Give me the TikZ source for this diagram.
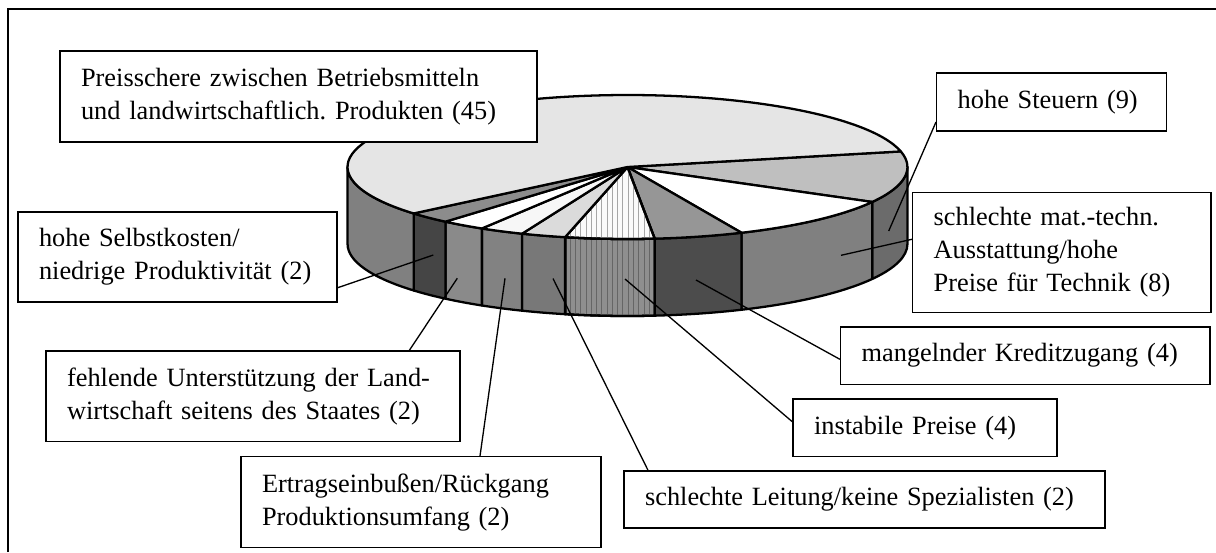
\documentclass[tikz,border=0pt]{standalone}
\usepackage{fontspec}
\setmainfont{Liberation Serif}
\usetikzlibrary{patterns}

\definecolor{preT}{gray}{0.90}
\definecolor{preS}{gray}{0.50}
\definecolor{steuT}{gray}{0.75}
\definecolor{steuS}{gray}{0.42}
\definecolor{matS}{gray}{0.50}
\definecolor{kredT}{gray}{0.59}
\definecolor{kredS}{gray}{0.30}
\definecolor{instT}{gray}{0.98}
\definecolor{instS}{gray}{0.56}
\definecolor{leitT}{gray}{0.86}
\definecolor{leitS}{gray}{0.47}
\definecolor{ertrT}{gray}{0.97}
\definecolor{ertrS}{gray}{0.51}
\definecolor{fehlS}{gray}{0.54}
\definecolor{selbT}{gray}{0.55}
\definecolor{selbS}{gray}{0.27}

\tikzset{
    hatch/instT/.style={postaction={pattern=vertical lines, pattern color=black!35}, postaction={draw, line width=1.3pt}},
    hatch/instS/.style={postaction={pattern=vertical lines, pattern color=black!60}, postaction={draw, line width=1.3pt}}
}

\begin{document}
\frenchspacing
\begin{tikzpicture}[
            x=0.02cm, y=0.02cm,
            font=\fontsize{15}{18.8}\selectfont,
            lbl/.style={rectangle, draw, line width=0.85pt, fill=white, align=left, inner xsep=0.42cm, inner ysep=0pt},
            pie/.style={draw, line width=1.3pt, line join=round},
            rim/.style={x radius=5.6cm, y radius=1.44cm},
            lead/.style={line width=0.75pt}
        ]
        \useasboundingbox (0,0) rectangle (1216,-552);
        \draw[line width=0.85pt] (8,-552) -- (8,-9) -- (1216,-9);

        % 3D pie: sides first, then the top faces
        \begin{scope}[shift={(627.5,-167)}]
        \foreach \lo/\hi/\col in {-29.04/0/steuS, -65.96/-29.04/matS, -84.42/-65.96/kredS, -102.88/-84.42/instS, -112.12/-102.88/leitS, -121.35/-112.12/ertrS, -130.58/-121.35/fehlS, -139.81/-130.58/selbS, -180/-139.81/preS}
            \filldraw[pie, fill=\col, hatch/\col/.try] (\hi:5.6cm and 1.44cm) arc[rim, start angle=\hi, end angle=\lo] -- ++(0,-77) arc[rim, start angle=\lo, end angle=\hi] -- cycle;
        \foreach \lo/\hi/\col in {-29.04/12.5/steuT, -65.96/-29.04/white, -84.42/-65.96/kredT, -102.88/-84.42/instT, -112.12/-102.88/leitT, -121.35/-112.12/ertrT, -130.58/-121.35/white, -139.81/-130.58/selbT, 12.5/220.19/preT}
            \filldraw[pie, fill=\col, hatch/\col/.try] (0,0) -- (\lo:5.6cm and 1.44cm) arc[rim, start angle=\lo, end angle=\hi] -- cycle;
        \end{scope}

        \coordinate (steu-p) at (888.7,-231);
        \coordinate (mat-p) at (841,-255.3);
        \coordinate (kred-p) at (696,-280);
        \coordinate (inst-p) at (625,-279);
        \coordinate (leit-p) at (553,-278.5);
        \coordinate (ertr-p) at (505,-278.3);
        \coordinate (fehl-p) at (457.3,-278.3);
        \coordinate (selb-p) at (433.3,-255);

        \node[lbl, text width=8.70cm, minimum height=1.82cm] (pre) at (298.5,-96.5) {Preisschere zwischen Betriebsmitteln\\und landwirtschaftlich. Produkten (45)};
        \node[lbl, text width=3.76cm, minimum height=1.16cm] (steu) at (1051.7,-102) {hohe Steuern (9)};
        \node[lbl, text width=5.13cm, minimum height=2.40cm] (mat) at (1061.85,-252.3) {schlechte mat.-techn.\\Ausstattung/hohe\\Preise für Technik (8)};
        \node[lbl, text width=6.55cm, minimum height=1.15cm] (kred) at (1025.35,-355.5) {mangelnder Kreditzugang (4)};
        \node[lbl, text width=4.44cm, minimum height=1.15cm] (inst) at (925,-427.85) {instabile Preise (4)};
        \node[lbl, text width=8.78cm, minimum height=1.14cm] (leit) at (864.5,-499.5) {schlechte Leitung/keine Spezialisten (2)};
        \node[lbl, text width=6.36cm, minimum height=1.82cm] (ertr) at (421,-502.2) {Ertragseinbußen/Rückgang\\Produktionsumfang (2)};
        \node[lbl, text width=7.44cm, minimum height=1.81cm] (fehl) at (253,-396.35) {fehlende Unterstützung der Land-\\wirtschaft seitens des Staates (2)};
        \node[lbl, text width=5.54cm, minimum height=1.80cm] (selb) at (177.5,-257) {hohe Selbstkosten/\\niedrige Produktivität (2)};

        \draw[lead] (steu.west |- 0,-122) -- (steu-p);
        \draw[lead] (mat.west |- 0,-239.3) -- (mat-p);
        \draw[lead] (kred.west |- 0,-359.3) -- (kred-p);
        \draw[lead] (inst.west |- 0,-421.7) -- (inst-p);
        \draw[lead] (leit.north -| 648,0) -- (leit-p);
        \draw[lead] (ertr.north -| 480,0) -- (ertr-p);
        \draw[lead] (fehl.north -| 409.3,0) -- (fehl-p);
        \draw[lead] (selb.east |- 0,-287.7) -- (selb-p);
\end{tikzpicture}
\end{document}
